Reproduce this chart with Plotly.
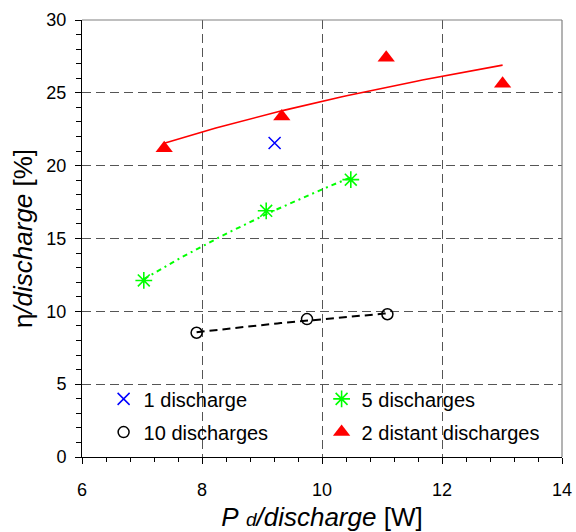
import numpy as np
import plotly.graph_objects as go

# Measured efficiency per discharge vs. discharge power
p_one = [9.21]
eta_one = [21.55]

p_five = [7.03, 9.07, 10.48]
eta_five = [12.12, 16.90, 19.04]

p_ten = [7.91, 9.75, 11.09]
eta_ten = [8.53, 9.47, 9.80]

p_distant = [7.37, 9.33, 11.07, 13.01]
eta_distant = [21.2, 23.37, 27.4, 25.62]

FONT = "Liberation Sans, Arial, sans-serif"


def log_trend(xs, ys, n=60):
    """Logarithmic least-squares trend y = a + b ln(x) over the data range."""
    b, a = np.polyfit(np.log(xs), ys, 1)
    xx = np.linspace(min(xs), max(xs), n)
    return xx, a + b * np.log(xx)


fig = go.Figure()

# Trend lines (drawn first so markers sit on top)
for xs, ys, color, dash, width in [
    (p_distant, eta_distant, "#ff0000", "solid", 1.6),
    (p_five, eta_five, "#00ff00", "5px,4px,2px,4px", 2),
    (p_ten, eta_ten, "#000000", "8px,5px", 2),
]:
    tx, ty = log_trend(xs, ys)
    fig.add_trace(go.Scatter(x=tx, y=ty, mode="lines", showlegend=False,
                             hoverinfo="skip",
                             line=dict(color=color, dash=dash, width=width)))

fig.add_trace(go.Scatter(x=p_one, y=eta_one, mode="markers", name="1 discharge",
                         legend="legend",
                         marker=dict(symbol="x-thin-open", size=12, color="#0000ff",
                                     line=dict(color="#0000ff", width=1.5))))
fig.add_trace(go.Scatter(x=p_five, y=eta_five, mode="markers", name="5 discharges",
                         legend="legend",
                         marker=dict(symbol="asterisk-open", size=14, color="#00ff00",
                                     line=dict(color="#00ff00", width=1.6))))
fig.add_trace(go.Scatter(x=p_ten, y=eta_ten, mode="markers", name="10 discharges",
                         legend="legend2",
                         marker=dict(symbol="circle-open", size=11, color="#000000",
                                     line=dict(color="#000000", width=1.5))))
fig.add_trace(go.Scatter(x=p_distant, y=eta_distant, mode="markers",
                         name="2 distant discharges", legend="legend2",
                         marker=dict(symbol="triangle-up", size=15, color="#ff0000",
                                     line=dict(width=0))))

legend_common = dict(orientation="h", xanchor="left", yanchor="middle",
                     bgcolor="rgba(0,0,0,0)", borderwidth=0,
                     entrywidth=173, entrywidthmode="pixels",
                     font=dict(family=FONT, size=20, color="#000000"))

grid_dash = "9px,5px"
fig.update_layout(
    width=576, height=532,
    margin=dict(l=82, r=14, t=20, b=75, autoexpand=False),
    paper_bgcolor="white", plot_bgcolor="white",
    font=dict(family=FONT, color="#000000"),
    legend=dict(x=0.045, y=0.133, **legend_common),
    legend2=dict(x=0.045, y=0.057, **legend_common),
    xaxis=dict(
        range=[6, 14], dtick=2, tick0=6, automargin=False,
        showline=True, linecolor="#000000", linewidth=1,
        ticks="outside", ticklen=6, tickcolor="#000000",
        minor=dict(dtick=0.4, tick0=6, ticks="outside", ticklen=4,
                   tickcolor="#000000", showgrid=False),
        showgrid=True, gridcolor="#555555", gridwidth=1, griddash=grid_dash,
        zeroline=False, ticklabelstandoff=10,
        tickfont=dict(family=FONT, size=18, color="#000000"),
        title=dict(text="<i>P</i> <span style='font-size:19px'><i>d</i></span>"
                        "<i>/discharge</i> [W]",
                   font=dict(family=FONT, size=26, color="#000000"), standoff=9),
    ),
    yaxis=dict(
        range=[0, 30], dtick=5, tick0=0, automargin=False,
        showline=True, linecolor="#000000", linewidth=1,
        ticks="outside", ticklen=6, tickcolor="#000000",
        minor=dict(dtick=1, ticks="outside", ticklen=5,
                   tickcolor="#000000", showgrid=False),
        showgrid=True, gridcolor="#555555", gridwidth=1, griddash=grid_dash,
        zeroline=False, ticklabelstandoff=5,
        tickfont=dict(family=FONT, size=18, color="#000000"),
        title=dict(text="η<i>/discharge</i> [%]",
                   font=dict(family=FONT, size=26, color="#000000"), standoff=6),
    ),
    shapes=[
        # white panel behind the legend entries
        dict(type="rect", xref="paper", yref="paper", x0=0.044, x1=0.96,
             y0=0.004, y1=0.166, fillcolor="white", line=dict(width=0),
             layer="between"),
        # light frame on the top and right edges
        dict(type="line", xref="paper", yref="paper", x0=0, x1=1, y0=1, y1=1,
             line=dict(color="#808080", width=1.2)),
        dict(type="line", xref="paper", yref="paper", x0=1, x1=1, y0=0, y1=1,
             line=dict(color="#808080", width=1.2)),
    ],
)

fig.write_html("out.html")
